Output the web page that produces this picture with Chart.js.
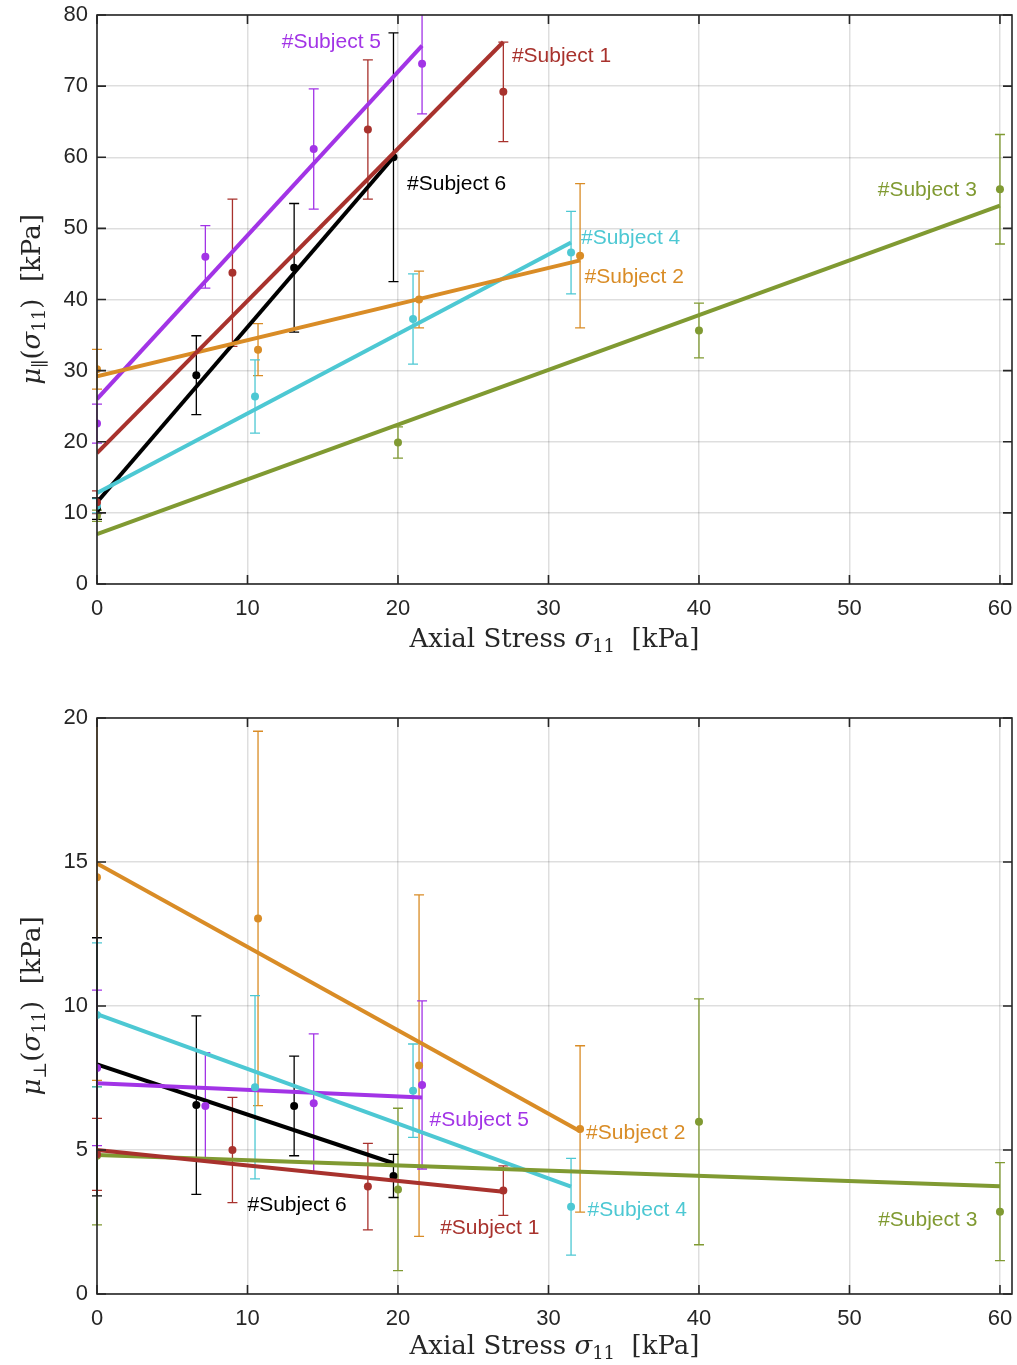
<!DOCTYPE html>
<html>
<head>
<meta charset="utf-8">
<script src="https://cdn.jsdelivr.net/npm/chart.js@4.4.0/dist/chart.umd.min.js"></script>
<style>
body { margin: 0; background: #fff; }
.wrap { position: absolute; left: 0; width: 1017px; }
</style>
</head>
<body>
<div class="wrap" style="top:0;height:682px"><canvas id="chartPar"></canvas></div>
<div class="wrap" style="top:682px;height:683px"><canvas id="chartPerp"></canvas></div>
<script>
// dados
const subjects = ['#Subject 1', '#Subject 2', '#Subject 3', '#Subject 4', '#Subject 5', '#Subject 6'];
const colors = ['#A8322D', '#D98C26', '#809A32', '#4DC8D3', '#A234E6', '#000000'];

// tensao axial de cada medida (kPa)
const stressLevels = [
    [0, 9, 18, 27],
    [0, 10.7, 21.4, 32.1],
    [0, 20, 40, 60],
    [0, 10.5, 21, 31.5],
    [0, 7.2, 14.4, 21.6],
    [0, 6.6, 13.1, 19.7]
];

// mu paralelo e barras de erro
const muPar = [
    [11.5, 43.75, 63.9, 69.2],
    [30.2, 32.95, 40.0, 46.15],
    [9.6, 19.9, 35.65, 55.5],
    [11.0, 26.35, 37.25, 46.6],
    [22.55, 46.0, 61.15, 73.15],
    [10.6, 29.35, 44.45, 60.0]
];
const errPar = [
    [1.6, 10.35, 9.8, 7.0],
    [2.8, 3.65, 4.0, 10.15],
    [0.8, 2.2, 3.85, 7.7],
    [1.0, 5.15, 6.35, 5.8],
    [2.75, 4.4, 8.45, 7.05],
    [1.5, 5.55, 9.05, 17.5]
];

// mu perpendicular e barras de erro
const muPerp = [
    [4.85, 5.0, 3.73, 3.59],
    [14.47, 13.04, 7.93, 5.73],
    [4.8, 3.63, 5.98, 2.86],
    [9.69, 7.18, 7.06, 3.03],
    [7.85, 6.53, 6.62, 7.26],
    [7.89, 6.56, 6.53, 4.10]
];
const errPerp = [
    [1.25, 1.83, 1.5, 0.86],
    [7.05, 6.5, 5.93, 2.89],
    [2.4, 2.82, 4.27, 1.7],
    [2.5, 3.18, 1.62, 1.68],
    [2.7, 1.85, 2.41, 2.92],
    [4.48, 3.1, 1.73, 0.75]
];

// retas ajustadas: valor em sigma=0 e na ultima tensao
const fitParStart = [18.4, 29.2, 7.0, 12.8, 26.0, 11.5];
const fitParEnd = [76.2, 45.5, 53.2, 48.0, 75.7, 60.0];
const fitPerpStart = [5.0, 14.95, 4.83, 9.72, 7.32, 7.97];
const fitPerpEnd = [3.55, 5.65, 3.74, 3.73, 6.82, 4.54];

const xTicks = [0, 10, 20, 30, 40, 50, 60];
const yTicksPar = [0, 10, 20, 30, 40, 50, 60, 70, 80];
const yTicksPerp = [0, 5, 10, 15, 20];

// onde fica o nome de cada sujeito (coordenadas do grafico)
const labelsPar = [[27.57, 74.2, 'left'], [32.4, 43.1, 'left'], [58.47, 55.3, 'right'],
    [32.16, 48.6, 'left'], [18.87, 76.2, 'right'], [20.6, 56.2, 'left']];
const labelsPerp = [[22.8, 2.28, 'left'], [32.5, 5.58, 'left'], [58.5, 2.55, 'right'],
    [32.6, 2.92, 'left'], [22.1, 6.03, 'left'], [10.0, 3.08, 'left']];

const axisColor = '#262626';
const serif = '"DejaVu Serif", "Liberation Serif", serif';
const sans = '"Liberation Sans", Arial, sans-serif';

function montarDatasets(mu, fitStart, fitEnd) {
    const ds = [];
    subjects.forEach((nome, i) => {
        const xs = stressLevels[i];
        ds.push({
            type: 'line',
            label: nome + ' fit',
            data: [{ x: 0, y: fitStart[i] }, { x: xs[xs.length - 1], y: fitEnd[i] }],
            borderColor: colors[i],
            borderWidth: 4,
            pointRadius: 0,
            fill: false
        });
        ds.push({
            type: 'scatter',
            label: nome,
            data: xs.map((x, k) => ({ x: x, y: mu[i][k] })),
            backgroundColor: colors[i],
            borderColor: colors[i],
            pointRadius: 4,
            pointBorderWidth: 0
        });
    });
    return ds;
}

function desenharPartes(ctx, partes, cx, cy) {
    let total = 0;
    partes.forEach(p => { ctx.font = p.f; total += ctx.measureText(p.t).width; });
    let x = cx - total / 2;
    partes.forEach(p => {
        ctx.font = p.f;
        ctx.fillText(p.t, x, cy + (p.dy || 0));
        x += ctx.measureText(p.t).width;
    });
}

function criarGrafico(id, mu, err, fitStart, fitEnd, yTicks, yMax, labelPos, yTitle, padTop, xAxisH, xTitleY) {
    const errorBars = {
        id: 'errorBars',
        beforeDatasetsDraw(chart) {
            const ctx = chart.ctx;
            const xs = chart.scales.x, ys = chart.scales.y;
            const area = chart.chartArea;
            ctx.save();
            ctx.beginPath();
            ctx.rect(area.left - 8, area.top, area.right - area.left + 16, area.bottom - area.top);
            ctx.clip();
            ctx.lineWidth = 1.3;
            subjects.forEach((nome, i) => {
                ctx.strokeStyle = colors[i];
                stressLevels[i].forEach((x, k) => {
                    const px = xs.getPixelForValue(x);
                    const top = ys.getPixelForValue(mu[i][k] + err[i][k]);
                    const bot = ys.getPixelForValue(mu[i][k] - err[i][k]);
                    ctx.beginPath();
                    ctx.moveTo(px, top); ctx.lineTo(px, bot);
                    ctx.moveTo(px - 5, top); ctx.lineTo(px + 5, top);
                    ctx.moveTo(px - 5, bot); ctx.lineTo(px + 5, bot);
                    ctx.stroke();
                });
            });
            ctx.restore();
        },
        afterDraw(chart) {
            const ctx = chart.ctx;
            const xs = chart.scales.x, ys = chart.scales.y;
            const a = chart.chartArea;
            ctx.save();
            // caixa com ticks para dentro
            ctx.strokeStyle = axisColor;
            ctx.lineWidth = 1.6;
            ctx.strokeRect(a.left, a.top, a.right - a.left, a.bottom - a.top);
            ctx.beginPath();
            xTicks.forEach(v => {
                const px = xs.getPixelForValue(v);
                ctx.moveTo(px, a.bottom); ctx.lineTo(px, a.bottom - 9);
                ctx.moveTo(px, a.top); ctx.lineTo(px, a.top + 9);
            });
            yTicks.forEach(v => {
                const py = ys.getPixelForValue(v);
                ctx.moveTo(a.left, py); ctx.lineTo(a.left + 9, py);
                ctx.moveTo(a.right, py); ctx.lineTo(a.right - 9, py);
            });
            ctx.stroke();

            // nomes dos sujeitos
            ctx.font = '21px ' + sans;
            ctx.textBaseline = 'middle';
            labelPos.forEach((p, i) => {
                ctx.fillStyle = colors[i];
                ctx.textAlign = p[2];
                ctx.fillText(subjects[i], xs.getPixelForValue(p[0]), ys.getPixelForValue(p[1]));
            });

            // titulos dos eixos
            ctx.fillStyle = '#262626';
            ctx.textAlign = 'left';
            ctx.textBaseline = 'alphabetic';
            const f = '26px ' + serif, fi = 'italic 26px ' + serif, fs = '18px ' + serif;
            desenharPartes(ctx, [
                { t: 'Axial Stress ', f: f },
                { t: 'σ', f: fi },
                { t: '11', f: fs, dy: 5 },
                { t: '  [kPa]', f: f }
            ], (a.left + a.right) / 2, xTitleY);

            ctx.translate(40, (a.top + a.bottom) / 2);
            ctx.rotate(-Math.PI / 2);
            desenharPartes(ctx, [
                { t: 'μ', f: fi },
                { t: yTitle, f: fs, dy: 6 },
                { t: '(', f: f },
                { t: 'σ', f: fi },
                { t: '11', f: fs, dy: 5 },
                { t: ')  [kPa]', f: f }
            ], 0, 0);
            ctx.restore();
        }
    };

    new Chart(document.getElementById(id), {
        type: 'scatter',
        data: { datasets: montarDatasets(mu, fitStart, fitEnd) },
        options: {
            responsive: true,
            maintainAspectRatio: false,
            animation: false,
            layout: { padding: { top: padTop, right: 5, left: 0, bottom: 0 } },
            plugins: { legend: { display: false }, tooltip: { enabled: false } },
            scales: {
                x: {
                    type: 'linear',
                    min: 0,
                    max: 60.8,
                    afterBuildTicks: s => { s.ticks = xTicks.map(v => ({ value: v })); },
                    afterFit: s => { s.height = xAxisH; s.paddingLeft = 0; s.paddingRight = 0; },
                    grid: { color: 'rgba(0,0,0,0.13)', lineWidth: 1.5, drawTicks: false },
                    border: { display: false },
                    ticks: { color: axisColor, padding: 12, maxRotation: 0, font: { family: sans, size: 22 } }
                },
                y: {
                    type: 'linear',
                    min: 0,
                    max: yMax,
                    afterBuildTicks: s => { s.ticks = yTicks.map(v => ({ value: v })); },
                    afterFit: s => { s.width = 97; s.paddingTop = 0; s.paddingBottom = 0; },
                    grid: { color: 'rgba(0,0,0,0.13)', lineWidth: 1.5, drawTicks: false },
                    border: { display: false },
                    ticks: { color: axisColor, padding: 9, font: { family: sans, size: 22 } }
                }
            }
        },
        plugins: [errorBars]
    });
}

criarGrafico('chartPar', muPar, errPar, fitParStart, fitParEnd, yTicksPar, 80, labelsPar, '∥', 15, 98, 647);
criarGrafico('chartPerp', muPerp, errPerp, fitPerpStart, fitPerpEnd, yTicksPerp, 20, labelsPerp, '⊥', 36, 71, 672);
</script>
</body>
</html>
